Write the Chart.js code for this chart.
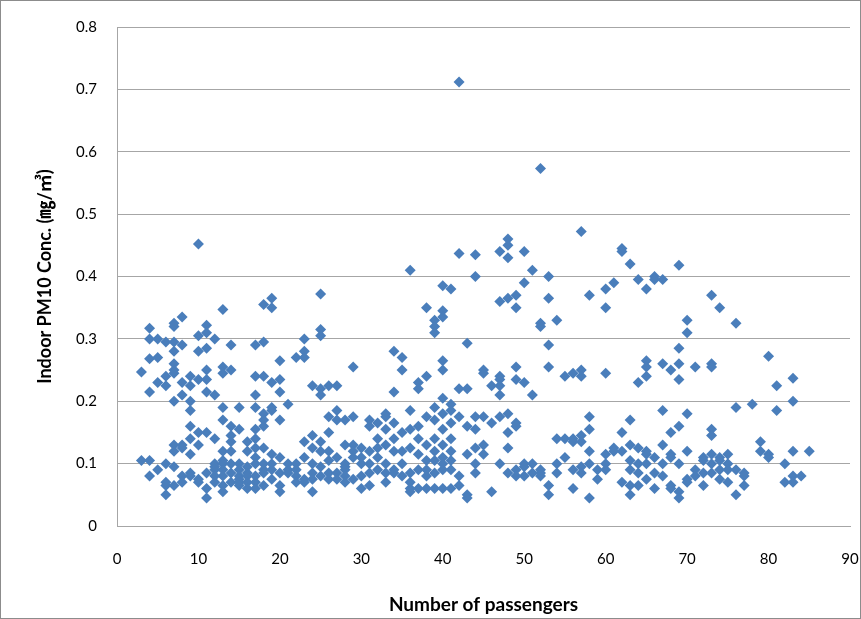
<!DOCTYPE html>
<html>
<head>
<meta charset="utf-8">
<script src="https://cdn.jsdelivr.net/npm/chart.js@4"></script>
<style>
  html, body { margin: 0; padding: 0; background: #fff; }
  #wrap { width: 861px; height: 619px; position: relative; }
</style>
</head>
<body>
<div id="wrap"><canvas id="chart"></canvas></div>
<script>
/* Indoor PM10 vs number of passengers */

const xTicks = [0, 10, 20, 30, 40, 50, 60, 70, 80, 90];
const yTicks = [0, 0.1, 0.2, 0.3, 0.4, 0.5, 0.6, 0.7, 0.8];

// passenger counts, one entry per column of points
const passengers = [
  3, 4, 5, 6, 7, 8, 9, 10, 11, 12,
  13, 14, 15, 16, 17, 18, 19, 20, 21, 22,
  23, 24, 25, 26, 27, 28, 29, 30, 31, 32,
  33, 34, 35, 36, 37, 38, 39, 40, 41, 42,
  43, 44, 45, 46, 47, 48, 49, 50, 51, 52,
  53, 54, 55, 56, 57, 58, 59, 60, 61, 62,
  63, 64, 65, 66, 67, 68, 69, 70, 71, 72,
  73, 74, 75, 76, 77, 78, 79, 80, 81, 82,
  83, 84, 85
];

// PM10 concentrations (mg/m3) measured at each passenger count above
const pm10 = [
  [0.247, 0.105],
  [0.317, 0.30, 0.268, 0.215, 0.105, 0.08],
  [0.30, 0.27, 0.23, 0.09],
  [0.295, 0.24, 0.225, 0.10, 0.065, 0.05, 0.07],
  [0.325, 0.32, 0.295, 0.28, 0.26, 0.25, 0.245, 0.20, 0.13, 0.12, 0.095, 0.065],
  [0.335, 0.29, 0.23, 0.21, 0.13, 0.125, 0.08, 0.07],
  [0.24, 0.225, 0.20, 0.185, 0.16, 0.14, 0.115, 0.085, 0.08],
  [0.452, 0.305, 0.28, 0.235, 0.15, 0.13, 0.075, 0.07],
  [0.322, 0.31, 0.285, 0.25, 0.235, 0.215, 0.15, 0.085, 0.06, 0.045],
  [0.30, 0.21, 0.14, 0.10, 0.095, 0.09, 0.08, 0.07],
  [0.347, 0.255, 0.245, 0.19, 0.17, 0.12, 0.105, 0.10, 0.09, 0.08, 0.065, 0.055],
  [0.29, 0.25, 0.16, 0.145, 0.135, 0.12, 0.10, 0.085, 0.07],
  [0.19, 0.155, 0.10, 0.09, 0.08, 0.075, 0.07, 0.065],
  [0.135, 0.12, 0.095, 0.085, 0.08, 0.07, 0.06],
  [0.29, 0.24, 0.21, 0.19, 0.155, 0.14, 0.125, 0.11, 0.10, 0.08, 0.07, 0.06],
  [0.355, 0.295, 0.24, 0.18, 0.17, 0.16, 0.125, 0.10, 0.09, 0.085, 0.065],
  [0.365, 0.35, 0.23, 0.19, 0.185, 0.115, 0.10, 0.09, 0.075],
  [0.265, 0.235, 0.215, 0.17, 0.11, 0.085, 0.065, 0.055],
  [0.195, 0.10, 0.09, 0.085],
  [0.27, 0.10, 0.09, 0.08, 0.07],
  [0.30, 0.28, 0.27, 0.135, 0.11, 0.075, 0.07],
  [0.225, 0.145, 0.125, 0.10, 0.085, 0.075, 0.055],
  [0.372, 0.315, 0.305, 0.22, 0.21, 0.135, 0.12, 0.095, 0.08],
  [0.225, 0.175, 0.15, 0.12, 0.105, 0.085, 0.075],
  [0.225, 0.185, 0.17, 0.11, 0.085, 0.075],
  [0.17, 0.13, 0.10, 0.095, 0.09, 0.08, 0.07],
  [0.255, 0.175, 0.13, 0.12, 0.11, 0.075],
  [0.125, 0.11, 0.10, 0.08, 0.06],
  [0.17, 0.16, 0.12, 0.10, 0.085, 0.065],
  [0.165, 0.14, 0.125, 0.11, 0.09],
  [0.18, 0.175, 0.155, 0.13, 0.10, 0.085, 0.07],
  [0.28, 0.215, 0.165, 0.14, 0.12, 0.09, 0.085],
  [0.27, 0.25, 0.15, 0.12, 0.10, 0.08],
  [0.41, 0.185, 0.155, 0.125, 0.085, 0.07, 0.06, 0.055],
  [0.23, 0.22, 0.16, 0.14, 0.115, 0.09, 0.06],
  [0.35, 0.24, 0.175, 0.13, 0.105, 0.09, 0.08, 0.06],
  [0.33, 0.32, 0.31, 0.19, 0.17, 0.14, 0.12, 0.105, 0.085, 0.06],
  [0.385, 0.345, 0.335, 0.265, 0.25, 0.205, 0.18, 0.155, 0.13, 0.11, 0.10, 0.09, 0.06],
  [0.38, 0.195, 0.185, 0.165, 0.14, 0.12, 0.105, 0.09, 0.06],
  [0.712, 0.437, 0.22, 0.175, 0.08, 0.065],
  [0.293, 0.22, 0.16, 0.115, 0.05, 0.045],
  [0.435, 0.40, 0.175, 0.155, 0.125, 0.10, 0.085],
  [0.25, 0.245, 0.175, 0.13, 0.115],
  [0.225, 0.165, 0.055],
  [0.44, 0.36, 0.24, 0.235, 0.225, 0.21, 0.175, 0.10],
  [0.46, 0.45, 0.43, 0.365, 0.18, 0.15, 0.125, 0.085],
  [0.37, 0.35, 0.255, 0.235, 0.165, 0.16, 0.09, 0.08],
  [0.44, 0.39, 0.23, 0.10, 0.095, 0.08],
  [0.41, 0.21, 0.10, 0.085],
  [0.573, 0.325, 0.32, 0.09, 0.085, 0.08],
  [0.40, 0.365, 0.29, 0.255, 0.065, 0.05],
  [0.33, 0.14, 0.10, 0.085],
  [0.24, 0.14, 0.11],
  [0.245, 0.14, 0.135, 0.09, 0.06],
  [0.472, 0.25, 0.24, 0.145, 0.135, 0.095, 0.085],
  [0.37, 0.175, 0.155, 0.12, 0.10, 0.045],
  [0.09, 0.075],
  [0.38, 0.35, 0.245, 0.115, 0.10, 0.09],
  [0.39, 0.125, 0.12],
  [0.445, 0.44, 0.15, 0.12, 0.07],
  [0.42, 0.17, 0.13, 0.105, 0.09, 0.065, 0.05],
  [0.395, 0.23, 0.125, 0.10, 0.085, 0.065],
  [0.38, 0.265, 0.255, 0.24, 0.12, 0.115, 0.10, 0.075],
  [0.40, 0.395, 0.11, 0.085, 0.06],
  [0.395, 0.26, 0.185, 0.13, 0.10, 0.08],
  [0.25, 0.15, 0.115, 0.11, 0.065, 0.06],
  [0.418, 0.285, 0.26, 0.235, 0.16, 0.10, 0.055, 0.045],
  [0.33, 0.31, 0.18, 0.12, 0.075, 0.07],
  [0.255, 0.09, 0.08],
  [0.11, 0.105, 0.085, 0.065],
  [0.37, 0.26, 0.255, 0.155, 0.145, 0.115, 0.10, 0.085],
  [0.35, 0.11, 0.105, 0.09, 0.075],
  [0.115, 0.10, 0.09, 0.07],
  [0.325, 0.19, 0.09, 0.05],
  [0.085, 0.08, 0.065],
  [0.195],
  [0.135, 0.12],
  [0.272, 0.115, 0.11],
  [0.225, 0.185],
  [0.10, 0.07],
  [0.237, 0.20, 0.12, 0.08, 0.07],
  [0.08],
  [0.12]
];

const FONT = "'Lato', 'Open Sans', sans-serif";
const POINT_COLOR = '#4a7ebb';
const GRID_COLOR = '#a6a6a6';

// flatten into {x, y} points for the scatter dataset
const points = [];
passengers.forEach((n, i) => {
  (pm10[i] || []).forEach(v => points.push({ x: n, y: v }));
});

/* thin frame round the whole picture, like the Excel chart border */
const frame = {
  id: 'frame',
  afterDraw(chart) {
    const ctx = chart.ctx;
    ctx.save();
    ctx.strokeStyle = '#8c8c8c';
    ctx.lineWidth = 1;
    ctx.strokeRect(0.5, 0.5, chart.width - 1, chart.height - 1);
    ctx.restore();
  }
};

new Chart(document.getElementById('chart'), {
  type: 'scatter',
  data: {
    datasets: [{
      data: points,
      pointStyle: 'rectRot',
      pointRadius: 5.5,
      borderWidth: 0,
      backgroundColor: POINT_COLOR,
      borderColor: POINT_COLOR,
    }]
  },
  plugins: [frame],
  options: {
    responsive: true,
    maintainAspectRatio: false,
    animation: false,
    layout: { padding: { top: 27, right: 11, left: 0, bottom: 0 } },
    plugins: {
      legend: { display: false },
      tooltip: { enabled: false },
    },
    scales: {
      x: {
        type: 'linear',
        min: 0,
        max: 90,
        afterBuildTicks: s => { s.ticks = xTicks.map(v => ({ value: v })); },
        afterFit: s => { s.height = 93; s.paddingLeft = 0; s.paddingRight = 0; },
        grid: { display: false, drawTicks: false },
        border: { display: true, color: GRID_COLOR, width: 1 },
        ticks: { color: '#000', padding: 24, font: { family: FONT, size: 15 } },
        title: {
          display: true,
          text: 'Number of passengers',
          color: '#000',
          font: { family: FONT, size: 19, weight: 'bold' },
          padding: { top: 0, bottom: 3 },
        }
      },
      y: {
        type: 'linear',
        min: 0,
        max: 0.8,
        afterBuildTicks: s => { s.ticks = yTicks.map(v => ({ value: v })); },
        afterFit: s => { s.width = 117; s.paddingTop = 0; s.paddingBottom = 0; },
        grid: { color: GRID_COLOR, lineWidth: 1, drawTicks: false },
        border: { display: true, color: GRID_COLOR, width: 1 },
        ticks: {
          color: '#000',
          padding: 20,
          font: { family: FONT, size: 15 },
          callback: v => String(Math.round(v * 10) / 10),
        },
        title: {
          display: true,
          text: 'Indoor PM10 Conc. (㎎/㎥)',
          color: '#000',
          font: { family: FONT + ", 'Noto Sans CJK KR'", size: 18, weight: 'bold' },
          padding: { top: 34, bottom: 0 },
        }
      }
    }
  }
});
</script>
</body>
</html>
